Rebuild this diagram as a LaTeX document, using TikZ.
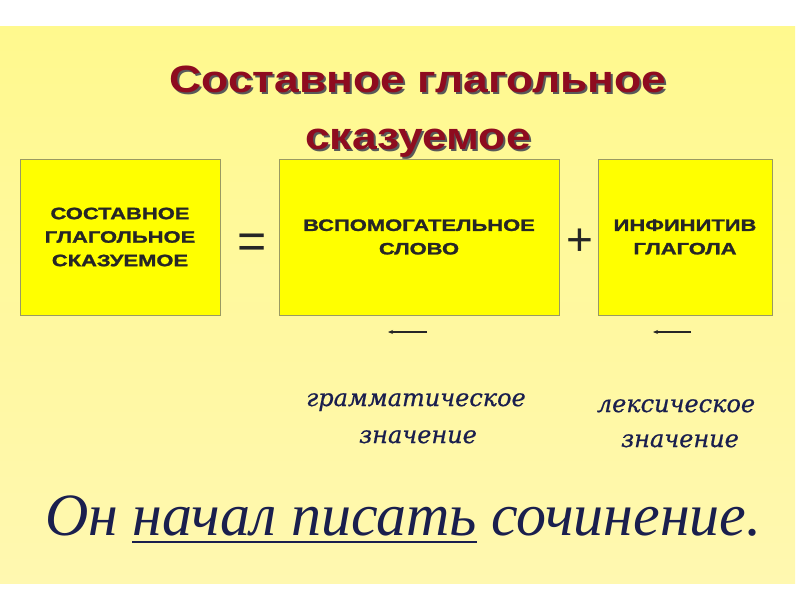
\documentclass[tikz,border=0pt]{standalone}
\usepackage{fontspec}
\usetikzlibrary{arrows.meta}
\setmainfont{Liberation Serif}
\setsansfont{Liberation Sans}
\newfontfamily\labelfont[FakeBold=0.6]{DejaVu Serif}
\newfontfamily\titlefont[FakeStretch=1.17]{Liberation Sans}
\newfontfamily\boxfont[FakeStretch=1.33,FakeBold=1.4]{Liberation Sans}
\definecolor{bgtop}{HTML}{FFF98E}
\definecolor{bgmid}{HTML}{FFFDE4}
\definecolor{bgbot}{HTML}{FFF8B0}
\definecolor{titlered}{HTML}{8E0C1F}
\definecolor{boxedge}{HTML}{9A9A62}
\definecolor{boxfill}{HTML}{FFFF00}
\definecolor{navy}{HTML}{1A1F4E}
\newcommand{\shadowed}[1]{\makebox[0pt][l]{\hspace{2pt}\raisebox{-2pt}{\color{black!65}#1}}{\color{titlered}#1}}
\begin{document}
\begin{tikzpicture}[x=1pt,y=-1pt,
  termbox/.style={draw=boxedge, line width=1pt, fill=boxfill, minimum width=#1, minimum height=156pt, inner sep=0pt, align=center,
    font=\boxfont\bfseries\fontsize{16.5}{23.5}\selectfont, text=black!85},
  titletext/.style={anchor=base, inner sep=0pt, font=\titlefont\bfseries\fontsize{38}{48}\selectfont},
  meaning/.style={anchor=base, inner sep=0pt, text=navy, font=\labelfont\itshape\fontsize{24}{30}\selectfont},
  sentence/.style={anchor=base west, inner sep=0pt, text=navy, font=\itshape\fontsize{60}{70}\selectfont},
  opsign/.style={inner sep=0pt, text=black!85},
  backarrow/.style={-{Stealth[length=5pt,width=4pt]}, line width=1.3pt, draw=black!85}
]
\useasboundingbox (0,0) rectangle (800,600);
\fill[white] (0,0) rectangle (800,600);
\shade[top color=bgtop, middle color=bgmid, bottom color=bgbot] (0,26) rectangle (795,583);
% title
\node[titletext] (t1) at (418,92) {\shadowed{Составное глагольное}};
\node[titletext] (t2) at (418,149) {\shadowed{сказуемое}};
% boxes
\node[termbox=200pt] (b1) at (120,237) {СОСТАВНОЕ\\ГЛАГОЛЬНОЕ\\СКАЗУЕМОЕ};
\node[termbox=280pt] (b2) at (419,237) {ВСПОМОГАТЕЛЬНОЕ\\СЛОВО};
\node[termbox=174pt] (b3) at (685,237) {ИНФИНИТИВ\\ГЛАГОЛА};
\node[opsign, font=\sffamily\fontsize{50}{50}\selectfont] (eq) at (252,246) {=};
\node[opsign, font=\sffamily\fontsize{46}{46}\selectfont] (plus) at (580,242) {+};
% arrows
\coordinate (a1s) at (427,332);
\coordinate (a1e) at (388,332);
\coordinate (a2s) at (691,332);
\coordinate (a2e) at (653,332);
\draw[backarrow] (a1s) -- (a1e);
\draw[backarrow] (a2s) -- (a2e);
% meanings
\node[meaning] (gram1) at (416,406) {грамматическое};
\node[meaning] (gram2) at (418,443) {значение};
\node[meaning] (lex1) at (676,412) {лексическое};
\node[meaning] (lex2) at (680,447) {значение};
% sentence
\node[sentence] (s1) at (45,535) {Он};
\node[sentence] (s2) at ([xshift=14pt]s1.base east) {начал писать};
\node[sentence] (s3) at ([xshift=14pt]s2.base east) {сочинение.};
\draw[navy, line width=2.5pt] ([yshift=-7pt]s2.base west) -- ([yshift=-7pt]s2.base east);
\end{tikzpicture}
\end{document}
